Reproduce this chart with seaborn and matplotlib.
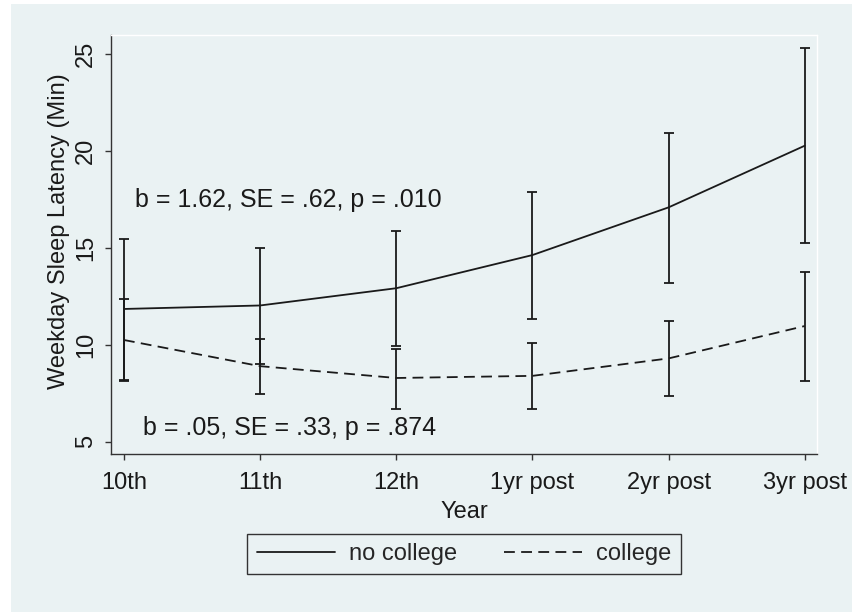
import numpy as np
import pandas as pd
import seaborn as sns
import matplotlib
matplotlib.use("Agg")
import matplotlib.pyplot as plt
from matplotlib.patches import Rectangle

years = ["10th", "11th", "12th", "1yr post", "2yr post", "3yr post"]

no_college_mean = [11.85, 12.03, 12.92, 14.63, 17.09, 20.27]
no_college_lo = [8.18, 9.0, 9.95, 11.33, 13.17, 15.25]
no_college_hi = [15.45, 15.0, 15.88, 17.89, 20.94, 25.3]

college_mean = [10.25, 8.9, 8.29, 8.4, 9.3, 10.97]
college_lo = [8.15, 7.45, 6.71, 6.71, 7.36, 8.13]
college_hi = [12.37, 10.3, 9.79, 10.09, 11.24, 13.77]

bg = "#eaf2f3"
ink = "#1a1a1a"

sns.set_theme(style="ticks")
plt.rcParams['font.family'] = ['Liberation Sans', 'DejaVu Sans']

fig = plt.figure(figsize=(8.53, 6.12), dpi=100)
fig.patch.set_facecolor("white")
fig.add_artist(Rectangle((11 / 853, 0), 1, 1 - 4 / 612, transform=fig.transFigure,
                         facecolor=bg, edgecolor="none", zorder=-10))

ax = fig.add_axes([111 / 853, 1 - 454 / 612, (817 - 111) / 853, (454 - 35) / 612])
ax.set_facecolor(bg)

xs = np.arange(len(years))
df = pd.DataFrame({"pos": xs, "no_college": no_college_mean, "college": college_mean})

sns.lineplot(data=df, x="pos", y="no_college", color=ink, linewidth=1.3,
             label="no college", ax=ax)
sns.lineplot(data=df, x="pos", y="college", color=ink, linewidth=1.3,
             linestyle=(0, (6, 3.5)), label="college", ax=ax)

for m, lo, hi in [(no_college_mean, no_college_lo, no_college_hi),
                  (college_mean, college_lo, college_hi)]:
    m = np.array(m)
    err = [m - np.array(lo), np.array(hi) - m]
    ax.errorbar(xs, m, yerr=err, fmt="none", ecolor=ink, elinewidth=1.3,
                capsize=3.6, capthick=1.3)

ax.text(0.08, 17.47, "b = 1.62, SE = .62, p = .010", fontsize=18, va="center", color=ink)
ax.text(0.14, 5.7, "b = .05, SE = .33, p = .874", fontsize=18, va="center", color=ink)

ax.set_xlim(-0.095, 5.09)
ax.set_ylim(4.37, 25.98)
ax.set_xticks(xs)
ax.set_xticklabels(years)
ax.set_yticks([5, 10, 15, 20, 25])
ax.tick_params(axis="both", labelsize=17, length=4, width=1, color="#333333",
               labelcolor=ink)
ax.tick_params(axis="y", pad=6)
ax.tick_params(axis="x", pad=9)
plt.setp(ax.get_yticklabels(), rotation=90, va="center")

ax.set_xlabel("Year", fontsize=17, color=ink, labelpad=5)
ax.set_ylabel("Weekday Sleep Latency (Min)", fontsize=17, color=ink)
ax.yaxis.set_label_coords(-0.058, 0.531)

for s in ["left", "bottom"]:
    ax.spines[s].set_color("#333333")
    ax.spines[s].set_linewidth(1.0)
for s in ["top", "right"]:
    ax.spines[s].set_color("white")
    ax.spines[s].set_linewidth(1.0)

handles, labels = ax.get_legend_handles_labels()
leg = ax.legend(handles, labels, loc="center", bbox_to_anchor=(464 / 853, 1 - 554 / 612),
                bbox_transform=fig.transFigure, ncol=2, fontsize=17, frameon=True,
                fancybox=False, edgecolor="#333333", facecolor=bg, framealpha=1,
                handlelength=3.3, columnspacing=2.0, handletextpad=0.6, borderpad=0.4)
leg.get_frame().set_linewidth(1.0)

fig.savefig("out.png", dpi=100, facecolor=fig.get_facecolor())
